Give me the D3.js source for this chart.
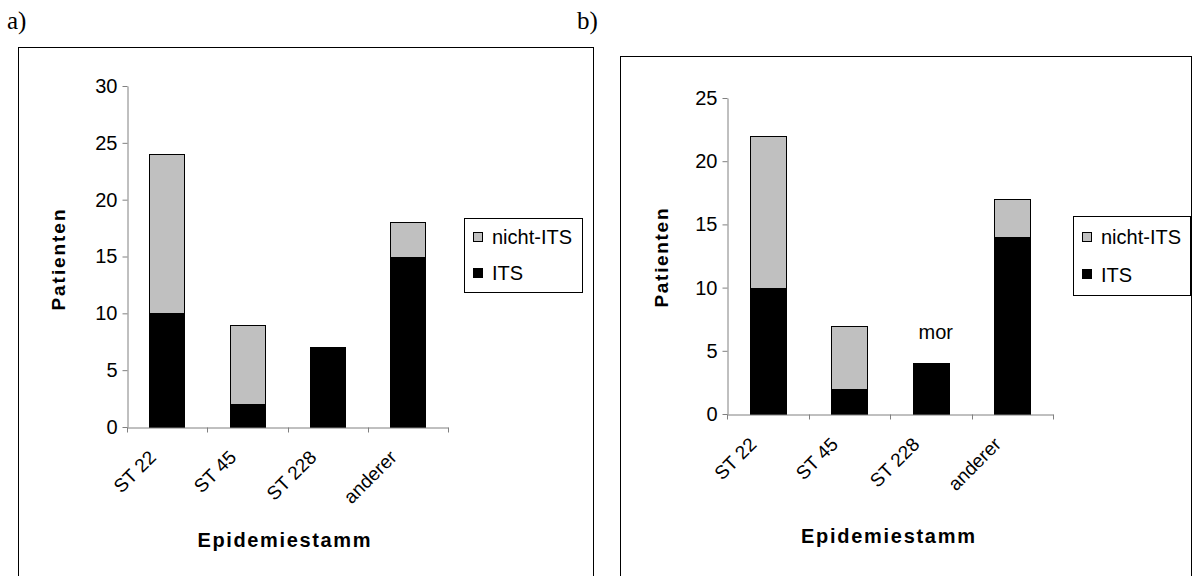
<!DOCTYPE html>
<html>
<head>
<meta charset="utf-8">
<script src="https://cdn.jsdelivr.net/npm/d3@7"></script>
<style>
  html, body { margin: 0; padding: 0; background: #fff; }
  svg { display: block; }
  text { font-family: "Liberation Sans", Arial, sans-serif; fill: #000; }
</style>
</head>
<body>
<svg id="chart" width="1192" height="576"></svg>
<script>
// ---- Data ----
const categories = ["ST 22", "ST 45", "ST 228", "anderer"];
const seriesKeys = ["ITS", "nicht-ITS"];
const legendOrder = ["nicht-ITS", "ITS"];
const itsA = [10, 2, 7, 15];
const nichtItsA = [14, 7, 0, 3];
const itsB = [10, 2, 4, 14];
const nichtItsB = [12, 5, 0, 3];
const yTicksA = [0, 5, 10, 15, 20, 25, 30];
const yTicksB = [0, 5, 10, 15, 20, 25];
const panelLabels = ["a)", "b)"];
const yTitle = "Patienten";
const xTitle = "Epidemiestamm";
const annotationB = "mor";

const colors = { "ITS": "#000000", "nicht-ITS": "#c0c0c0" };
const svg = d3.select("#chart");

function drawPanel(opt) {
  const g = svg.append("g");
  // outer frame
  g.append("rect").attr("x", opt.frame[0] + 0.5).attr("y", opt.frame[1] + 0.5)
    .attr("width", opt.frame[2]).attr("height", opt.frame[3])
    .attr("fill", "none").attr("stroke", "#000").attr("stroke-width", 1);
  // panel letter
  g.append("text").attr("x", opt.letterPos[0]).attr("y", opt.letterPos[1])
    .style("font-family", "'Liberation Serif', 'Times New Roman', serif")
    .style("font-size", "25px").text(opt.letter);

  const rows = categories.map((c, i) => ({ cat: c, "ITS": opt.its[i], "nicht-ITS": opt.nicht[i] }));
  const x = d3.scaleBand().domain(categories).range(opt.xRange).padding(0);
  const y = d3.scaleLinear().domain([0, d3.max(opt.yTicks)]).range(opt.yRange);
  const stack = d3.stack().keys(seriesKeys)(rows);

  const barW = x.bandwidth() * 0.44;
  const off = (x.bandwidth() - barW) / 2;

  // bars
  stack.forEach(layer => {
    g.append("g").selectAll("rect")
      .data(layer.filter(d => d[1] - d[0] > 0))
      .join("rect")
      .attr("x", d => Math.round(x(d.data.cat) + off) + 0.5)
      .attr("y", d => Math.round(y(d[1])) + 0.5)
      .attr("width", Math.round(barW))
      .attr("height", d => Math.round(y(d[0])) - Math.round(y(d[1])))
      .attr("fill", colors[layer.key])
      .attr("stroke", "#000").attr("stroke-width", 1);
  });

  // y axis
  const yAxis = g.append("g").attr("transform", `translate(${Math.round(opt.xRange[0]) + 0.5},0)`)
    .call(d3.axisLeft(y).tickValues(opt.yTicks).tickSize(5).tickPadding(5).tickSizeOuter(0));
  yAxis.select(".domain").attr("stroke", "#808080");
  yAxis.selectAll(".tick line").attr("stroke", "#808080");
  yAxis.selectAll(".tick text").style("font-size", "20px").style("font-family", "'Liberation Sans', Arial, sans-serif").attr("fill", "#000");

  // x axis
  const y0 = Math.round(y(0)) + 0.5;
  const xAxis = g.append("g").attr("transform", `translate(0,${y0})`)
    .call(d3.axisBottom(x).tickSize(0).tickSizeOuter(0).tickFormat(() => ""));
  xAxis.select(".domain").attr("stroke", "#808080");
  // boundary tick marks
  const bounds = categories.map(c => x(c)).concat([opt.xRange[1]]);
  g.append("g").selectAll("line").data(bounds).join("line")
    .attr("x1", d => Math.round(d) + 0.5).attr("x2", d => Math.round(d) + 0.5)
    .attr("y1", y0).attr("y2", y0 + 5).attr("stroke", "#808080");
  // rotated category labels
  g.append("g").selectAll("text").data(categories).join("text")
    .attr("transform", d => `translate(${x(d) + x.bandwidth() / 2 - 10},${y0 + 31}) rotate(-45)`)
    .attr("text-anchor", "end")
    .style("font-size", "19px")
    .text(d => d);

  // axis titles
  g.append("text")
    .attr("transform", `translate(${opt.yTitlePos[0]},${opt.yTitlePos[1]}) rotate(-90)`)
    .attr("x", -opt.yTitleLen / 2)
    .attr("textLength", opt.yTitleLen).attr("lengthAdjust", "spacing")
    .style("font-size", "19px").style("font-weight", "bold")
    .text(yTitle);
  g.append("text")
    .attr("x", opt.xTitlePos[0] - opt.xTitleLen / 2).attr("y", opt.xTitlePos[1])
    .attr("textLength", opt.xTitleLen).attr("lengthAdjust", "spacing")
    .style("font-size", "20px").style("font-weight", "bold")
    .text(xTitle);

  // legend
  const L = opt.legend;
  const lg = g.append("g");
  lg.append("rect").attr("x", L[0] + 0.5).attr("y", L[1] + 0.5).attr("width", L[2]).attr("height", L[3])
    .attr("fill", "#fff").attr("stroke", "#000");
  legendOrder.forEach((k, i) => {
    const cy = L[1] + L[3] * (i === 0 ? 0.26 : 0.74);
    lg.append("rect").attr("x", L[0] + 9.5).attr("y", Math.round(cy - 5) + 0.5)
      .attr("width", 9).attr("height", 9).attr("fill", colors[k]).attr("stroke", "#000");
    lg.append("text").attr("x", L[0] + 28).attr("y", cy).attr("dy", "0.36em")
      .style("font-size", "20px").text(k);
  });

  if (opt.annotation) {
    const a = opt.annotation;
    g.append("text").attr("x", x(a.cat) + x.bandwidth() / 2 + 5).attr("y", y(a.value))
      .attr("text-anchor", "middle").style("font-size", "20px").text(a.text);
  }
}

drawPanel({
  frame: [18, 47, 575, 540], letter: panelLabels[0], letterPos: [7, 29],
  its: itsA, nicht: nichtItsA, yTicks: yTicksA,
  xRange: [127, 448], yRange: [427, 86],
  yTitlePos: [65, 260], yTitleLen: 101, xTitlePos: [284, 547], xTitleLen: 173,
  legend: [464, 218, 118, 74]
});
drawPanel({
  frame: [620, 56, 571, 540], letter: panelLabels[1], letterPos: [577, 29],
  its: itsB, nicht: nichtItsB, yTicks: yTicksB,
  xRange: [727, 1053], yRange: [414, 98],
  yTitlePos: [668, 258], yTitleLen: 99, xTitlePos: [888, 543], xTitleLen: 174,
  legend: [1073, 216, 117, 79],
  annotation: { cat: "ST 228", value: 5.9, text: annotationB }
});
</script>
</body>
</html>
